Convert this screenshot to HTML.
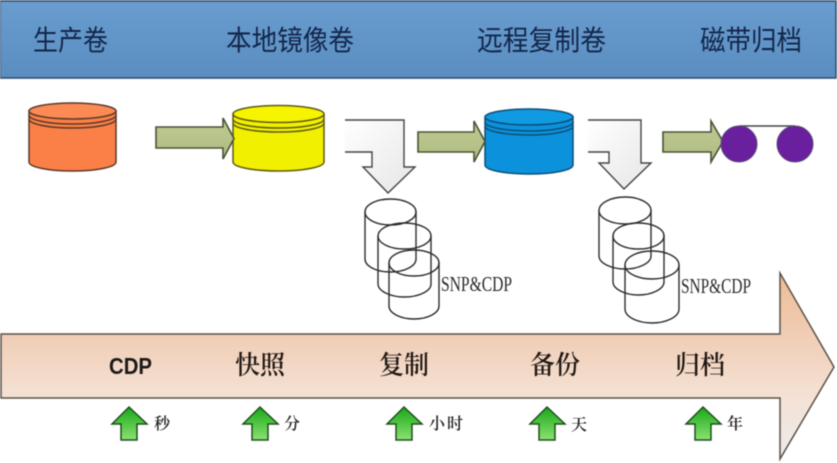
<!DOCTYPE html>
<html>
<head>
<meta charset="utf-8">
<style>
html,body{margin:0;padding:0;background:#fff;width:837px;height:463px;overflow:hidden}
svg{display:block;filter:blur(.45px)}
.h{font-family:"Liberation Sans","Noto Sans CJK SC",sans-serif;font-size:28px;fill:#12264a}
.m{font-family:"Liberation Serif","Noto Serif CJK SC",serif;font-size:26px;fill:#1f1813;font-weight:600}
.s{font-family:"Liberation Serif","Noto Serif CJK SC",serif;font-size:16px;fill:#222;font-weight:600}
.e{font-family:"Liberation Serif",serif;font-size:21px;fill:#2a2a2a}
.cy{fill:none;stroke:#2c2c2c;stroke-width:1.4}
.g{fill:url(#ga);stroke:#4a5433;stroke-width:1.6}
.u{fill:url(#gu);stroke:#1f4f1f;stroke-width:1.5}
.b{fill:url(#gb);stroke:#444;stroke-width:1.4}
</style>
</head>
<body>
<svg width="837" height="463" viewBox="0 0 837 463" xmlns="http://www.w3.org/2000/svg">
<defs>
<linearGradient id="top" x1="0" y1="0" x2="0" y2="1"><stop offset="0" stop-color="#6a9dcf"/><stop offset="1" stop-color="#5a8dc0"/></linearGradient>
<linearGradient id="ga" x1="0" y1="0" x2="0" y2="1"><stop offset="0" stop-color="#c0cb95"/><stop offset="1" stop-color="#aebb80"/></linearGradient>
<linearGradient id="gu" x1="0" y1="0" x2="0" y2="1"><stop offset="0" stop-color="#18a818"/><stop offset="1" stop-color="#8be272"/></linearGradient>
<linearGradient id="gb" x1="0" y1="0" x2="1" y2="1"><stop offset="0" stop-color="#ffffff"/><stop offset="1" stop-color="#e6e6e8"/></linearGradient>
<linearGradient id="big" gradientUnits="userSpaceOnUse" x1="0" y1="273" x2="0" y2="459">
<stop offset="0" stop-color="#eebd94"/><stop offset=".33" stop-color="#f0cdb5"/><stop offset=".67" stop-color="#f5e2d5"/><stop offset="1" stop-color="#ececec"/>
</linearGradient>
</defs>
<rect width="837" height="463" fill="#fff"/>

<!-- header -->
<rect x="0" y="1" width="836" height="77" fill="url(#top)" stroke="#34506f" stroke-width="1.6"/>
<text class="h" x="33" y="50" textLength="75" lengthAdjust="spacingAndGlyphs">生产卷</text>
<text class="h" x="226" y="50" textLength="128" lengthAdjust="spacingAndGlyphs">本地镜像卷</text>
<text class="h" x="477" y="50" textLength="129" lengthAdjust="spacingAndGlyphs">远程复制卷</text>
<text class="h" x="700" y="50" textLength="102" lengthAdjust="spacingAndGlyphs">磁带归档</text>

<!-- orange cylinder -->
<g stroke="#5a3a28" stroke-width="1.5" fill="#fb8048">
<path d="M29 111V162C29 167 48 171 72.500 171S116 167 116 162V111Z"/>
<ellipse cx="72.500" cy="111" rx="43.500" ry="8" fill="#fc8a55"/>
<path d="M29 115C29 120 48 124 72.500 124S116 120 116 115M29 119C29 124 48 128 72.500 128S116 124 116 119" fill="none"/>
</g>
<!-- yellow cylinder -->
<g stroke="#5f5a10" stroke-width="1.5" fill="#f1f000">
<path d="M233 114V162C233 167 253 171 278.500 171S324 167 324 162V114Z"/>
<ellipse cx="278.500" cy="114" rx="45.500" ry="8.500" fill="#f7f400"/>
<path d="M233 119C233 124 253 128 278.500 128S324 124 324 119M233 123C233 128 253 132 278.500 132S324 128 324 123" fill="none"/>
</g>
<!-- blue cylinder -->
<g stroke="#0c4f78" stroke-width="1.5" fill="#0c92dc">
<path d="M485 117V165C485 170 504 174 529 174S573 170 573 165V117Z"/>
<ellipse cx="529" cy="117" rx="44" ry="8" fill="#109ae2"/>
<path d="M485 122C485 127 504 131 529 131S573 127 573 122M485 126C485 131 504 135 529 135S573 131 573 126" fill="none"/>
</g>

<!-- green arrows -->
<path class="g" d="M156 127H223V118L234 138.500L223 159V148H156Z"/>
<path class="g" d="M418 132H474V121L485 141.500L474 162V152H418Z"/>
<path class="g" d="M663 132H711V121L723 141.500L711 162V152H663Z"/>

<!-- tape -->
<line x1="739" y1="126" x2="795" y2="126" stroke="#444" stroke-width="1.5"/>
<circle cx="739" cy="144" r="18" fill="#6a1f9e" stroke="#5a4a78" stroke-width="1"/>
<circle cx="795" cy="144" r="18" fill="#6a1f9e" stroke="#5a4a78" stroke-width="1"/>

<!-- bent arrows -->
<path class="b" d="M345 120H404V167H415L388 193L363 167H372V152H345" />
<path class="b" d="M588 120H641V163H651L624 189L599 163H609V152H588" />

<!-- small cylinders 1 -->
<g class="cy">
<ellipse cx="390.500" cy="212" rx="25.500" ry="13"/><path d="M365 212V259C365 266 376 272 390.500 272S416 266 416 259V212"/>
<ellipse cx="404.500" cy="236" rx="26.500" ry="13"/><path d="M378 236V284C378 291 390 297 404.500 297S431 291 431 284V236"/>
<ellipse cx="414" cy="263" rx="25" ry="13"/><path d="M389 263V306C389 313 400 319 414 319S439 313 439 306V263"/>
</g>
<text class="e" x="441" y="291" textLength="71" lengthAdjust="spacingAndGlyphs">SNP&amp;CDP</text>

<!-- small cylinders 2 -->
<g class="cy">
<ellipse cx="625" cy="210.500" rx="26" ry="13.500"/><path d="M599 210.500V256C599 263 611 269 625 269S651 263 651 256V210.500"/>
<ellipse cx="638.500" cy="236" rx="25.500" ry="13"/><path d="M613 236V282C613 289 625 295 638.500 295S664 289 664 282V236"/>
<ellipse cx="652" cy="265" rx="27" ry="14"/><path d="M625 265V309C625 317 638 323 652 323S679 317 679 309V265"/>
</g>
<text class="e" x="681" y="293" textLength="70" lengthAdjust="spacingAndGlyphs">SNP&amp;CDP</text>

<!-- big arrow -->
<path d="M1 334H780V273L834 367L780 459V398H1Z" fill="url(#big)" stroke="#5a5148" stroke-width="1.5"/>
<text x="109" y="374" font-family="Liberation Sans,sans-serif" font-weight="700" font-size="23" fill="#1c1a18" textLength="43" lengthAdjust="spacingAndGlyphs">CDP</text>
<text class="m" x="235" y="374" textLength="50" lengthAdjust="spacingAndGlyphs">快照</text>
<text class="m" x="379" y="374" textLength="50" lengthAdjust="spacingAndGlyphs">复制</text>
<text class="m" x="530" y="374" textLength="50" lengthAdjust="spacingAndGlyphs">备份</text>
<text class="m" x="675" y="374" textLength="50" lengthAdjust="spacingAndGlyphs">归档</text>

<!-- up arrows -->
<path class="u" d="M129 407L147 424H137V440H121V424H112Z"/>
<path class="u" d="M260 407L278 424H268V440H252V424H243Z"/>
<path class="u" d="M404 407L422 424H412V440H396V424H387Z"/>
<path class="u" d="M547 407L565 424H555V440H539V424H530Z"/>
<path class="u" d="M703 407L721 424H711V440H695V424H686Z"/>
<text class="s" x="154" y="429">秒</text>
<text class="s" x="284" y="429">分</text>
<text class="s" x="429" y="429" textLength="34" lengthAdjust="spacing">小时</text>
<text class="s" x="571" y="430">天</text>
<text class="s" x="727" y="429">年</text>
</svg>
</body>
</html>
